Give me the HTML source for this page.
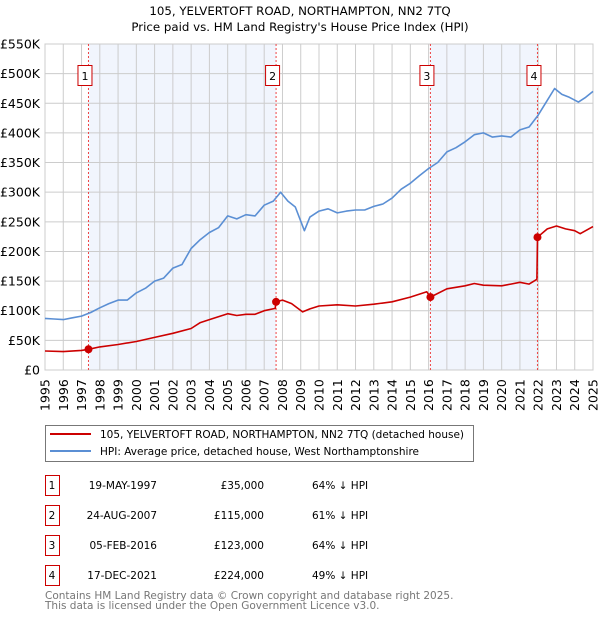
<!DOCTYPE html>
<html><head><meta charset="utf-8"><style>
body{margin:0;background:#fff;font-family:"DejaVu Sans","Liberation Sans",sans-serif;}
svg text{font-family:"DejaVu Sans","Liberation Sans",sans-serif;}
</style></head><body>
<svg id="chart" width="600" height="620" xmlns="http://www.w3.org/2000/svg">
<text x="300" y="15" text-anchor="middle" font-size="11.8">105, YELVERTOFT ROAD, NORTHAMPTON, NN2 7TQ</text>
<text x="300" y="31" text-anchor="middle" font-size="11.8">Price paid vs. HM Land Registry's House Price Index (HPI)</text>
<g id="plot"></g>
<g>
<rect x="45.5" y="425.5" width="428" height="36" fill="#fff" stroke="#777"/>
<line x1="50" y1="434" x2="91" y2="434" stroke="#cc0000" stroke-width="2"/>
<text x="100" y="438" font-size="10.5">105, YELVERTOFT ROAD, NORTHAMPTON, NN2 7TQ (detached house)</text>
<line x1="50" y1="451" x2="91" y2="451" stroke="#5b8fd4" stroke-width="2"/>
<text x="100" y="455" font-size="10.5">HPI: Average price, detached house, West Northamptonshire</text>
</g>
<g id="table" font-size="11"></g>
<text x="45" y="599" font-size="10.5" fill="#777">Contains HM Land Registry data © Crown copyright and database right 2025.</text>
<text x="45" y="609" font-size="10.5" fill="#777">This data is licensed under the Open Government Licence v3.0.</text>
</svg>
<script>
const hpiYears=[1995,1995.5,1996,1996.5,1997,1997.5,1998,1998.5,1999,1999.5,2000,2000.5,2001,2001.5,2002,2002.5,2003,2003.5,2004,2004.5,2005,2005.5,2006,2006.5,2007,2007.5,2007.9,2008.3,2008.7,2009.2,2009.5,2010,2010.5,2011,2011.5,2012,2012.5,2013,2013.5,2014,2014.5,2015,2015.5,2016,2016.5,2017,2017.5,2018,2018.5,2019,2019.5,2020,2020.5,2021,2021.5,2022,2022.5,2022.9,2023.3,2023.7,2024.2,2024.6,2025];
const hpiValues=[87,86,85,88,91,97,105,112,118,118,130,138,150,155,172,178,205,220,232,240,260,255,262,260,278,285,300,285,275,235,258,268,272,265,268,270,270,276,280,290,305,315,328,340,350,368,375,385,397,400,393,395,393,405,410,430,455,475,465,460,452,460,470];
const propYears=[1995,1996,1997,1997.38,1998,1999,2000,2001,2002,2003,2003.5,2004,2005,2005.5,2006,2006.5,2007,2007.6,2007.65,2008,2008.5,2009.1,2009.5,2010,2011,2012,2013,2014,2015,2015.9,2016.1,2017,2018,2018.5,2019,2020,2020.5,2021,2021.5,2021.93,2021.96,2022.5,2023,2023.5,2024,2024.3,2025];
const propValues=[32,31,33,35,39,43,48,55,62,70,80,85,95,92,94,94,100,104,115,118,112,98,103,108,110,108,111,115,123,132,123,137,142,146,143,142,145,148,145,153,224,238,243,238,235,230,242];
const saleYears=[1997.38,2007.65,2016.1,2021.96];
const saleValues=[35,115,123,224];
const saleLabels=["1","2","3","4"];
const saleDates=["19-MAY-1997","24-AUG-2007","05-FEB-2016","17-DEC-2021"];
const salePrices=["£35,000","£115,000","£123,000","£224,000"];
const salePcts=["64% ↓ HPI","61% ↓ HPI","64% ↓ HPI","49% ↓ HPI"];
const yTicks=[0,50,100,150,200,250,300,350,400,450,500,550];
const yTickLabels=["£0","£50K","£100K","£150K","£200K","£250K","£300K","£350K","£400K","£450K","£500K","£550K"];
const xTicks=[];for(let y=1995;y<=2025;y++)xTicks.push(y);

const NS="http://www.w3.org/2000/svg";
const X0=45,X1=593,Y0=370,Y1=44;
const xs=v=>X0+(v-1995)/30*(X1-X0);
const ys=v=>Y0-v/550*(Y0-Y1);
const plot=document.getElementById('plot');
function mk(tag,attrs,parent){const e=document.createElementNS(NS,tag);for(const k in attrs)e.setAttribute(k,attrs[k]);(parent||plot).appendChild(e);return e;}
for(const [a,b] of [[0,1],[2,3]]){
 const r=mk('rect',{x:xs(saleYears[a]),y:Y1,width:xs(saleYears[b])-xs(saleYears[a]),height:Y0-Y1,fill:'#eef3fc',opacity:0.8});
 
 
}
yTicks.forEach((t,i)=>{
 const l=mk('line',{x1:X0,x2:X1,y1:ys(t),y2:ys(t),stroke:'#cccccc'});
 
 
 const tx=mk('text',{x:40,y:ys(t)+4.5,'text-anchor':'end','font-size':12.5});
 tx.textContent=yTickLabels[i];
 
 
});
xTicks.forEach(t=>{
 const l=mk('line',{x1:xs(t),x2:xs(t),y1:Y1,y2:Y0,stroke:'#cccccc'});
 
 
 const tx=mk('text',{x:0,y:0,'font-size':12.5,transform:`translate(${xs(t)+4.5},${Y0+41}) rotate(-90)`});
 tx.textContent=t;
 
 
});
const border=mk('rect',{x:X0,y:Y1,width:X1-X0,height:Y0-Y1,fill:'none',stroke:'#cccccc'});


saleYears.forEach((y,i)=>{
 const l=mk('line',{x1:xs(y),x2:xs(y),y1:Y1,y2:Y0,stroke:'#ee4444','stroke-dasharray':'2,2','stroke-width':1});
 
 
 const r=mk('rect',{x:xs(y)-10.5,y:65.5,width:14,height:20,fill:'#fff',stroke:'#cc0000'});
 
 
 const t=mk('text',{x:xs(y)-3.5,y:80,'text-anchor':'middle','font-size':11});
 t.textContent=saleLabels[i];
 
 
});
function path(xa,va,color,name){
 const d=xa.map((x,i)=>(i?'L':'M')+xs(x).toFixed(1)+','+ys(va[i]).toFixed(1)).join('');
 const p=mk('path',{d:d,fill:'none',stroke:color,'stroke-width':1.6,'stroke-linejoin':'round'});
 
 
}
path(hpiYears,hpiValues,'#5b8fd4','hpi-line');
path(propYears,propValues,'#cc0000','property-line');
saleYears.forEach((y,i)=>{
 const c=mk('circle',{cx:xs(y),cy:ys(saleValues[i]),r:4,fill:'#cc0000'});
 
 
});
const tbl=document.getElementById('table');
saleLabels.forEach((lab,i)=>{
 const y0=475+i*30;
 const r=mk('rect',{x:45.5,y:y0+0.5,width:14,height:20,fill:'#fff',stroke:'#cc0000'},tbl);
 
 
 const vals=[[lab,52,'middle','table-sale-number'],[saleDates[i],157,'end','table-sale-date'],[salePrices[i],264,'end','table-sale-price'],[salePcts[i],312,'start','table-sale-hpi-diff']];
 vals.forEach(v=>{
  const t=mk('text',{x:v[1],y:y0+14,'text-anchor':v[2],'font-size':10.5},tbl);
  t.textContent=v[0];
  
  
 });
});
</script>
</body></html>
